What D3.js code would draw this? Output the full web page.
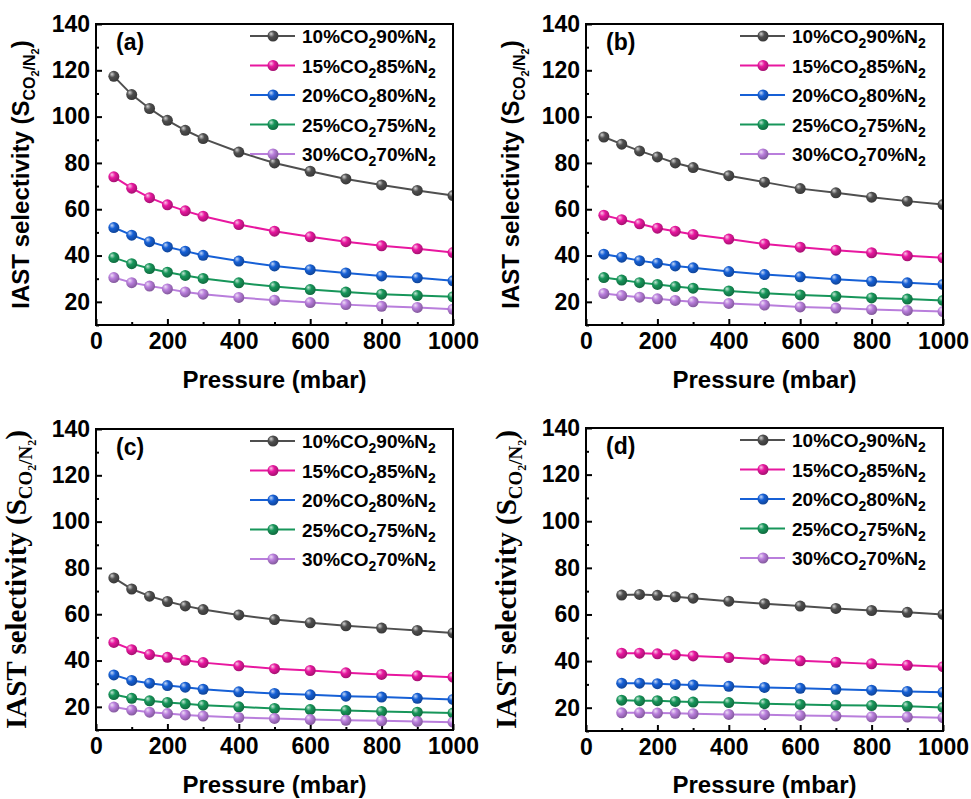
<!DOCTYPE html>
<html>
<head>
<meta charset="utf-8">
<script src="https://cdn.jsdelivr.net/npm/d3@7"></script>
<style>
  body { margin: 0; background: #fff; }
  svg { display: block; }
  .tick text { font-family: "Liberation Sans", Arial, sans-serif; font-weight: bold; font-size: 23px; fill: #000; }
</style>
</head>
<body>
<div id="chart"></div>
<script>
// pressure points (mbar)
var pressureABC = [50, 100, 150, 200, 250, 300, 400, 500, 600, 700, 800, 900, 1000];
var pressureD = [100, 150, 200, 250, 300, 400, 500, 600, 700, 800, 900, 1000];

var seriesNames = ["10%CO|90%N", "15%CO|85%N", "20%CO|80%N", "25%CO|75%N", "30%CO|70%N"];
var seriesColors = ["#4f4f4f", "#e8179f", "#1660d6", "#17965a", "#b97edc"];
var panelLabels = ["(a)", "(b)", "(c)", "(d)"];

var xTicks = [0, 200, 400, 600, 800, 1000];
var yTicks = [20, 40, 60, 80, 100, 120, 140];

// panel (a)
var a10 = [117.4, 109.5, 103.5, 98.4, 94.1, 90.5, 84.7, 80.0, 76.4, 73.1, 70.5, 68.1, 65.9];
var a15 = [74.0, 69.1, 65.0, 61.9, 59.3, 57.0, 53.4, 50.5, 48.1, 46.0, 44.2, 42.9, 41.3];
var a20 = [52.1, 48.8, 46.0, 43.7, 41.9, 40.1, 37.6, 35.5, 33.9, 32.5, 31.2, 30.4, 29.1];
var a25 = [39.1, 36.5, 34.4, 32.8, 31.4, 30.1, 28.2, 26.6, 25.3, 24.2, 23.3, 22.7, 22.2];
var a30 = [30.5, 28.3, 26.8, 25.6, 24.3, 23.3, 21.9, 20.7, 19.7, 18.8, 18.1, 17.6, 16.8];

// panel (b)
var b10 = [91.2, 88.1, 85.2, 82.6, 80.0, 78.0, 74.5, 71.7, 68.9, 67.1, 65.2, 63.5, 62.0];
var b15 = [57.4, 55.5, 53.7, 51.8, 50.5, 49.1, 47.1, 45.0, 43.6, 42.3, 41.2, 39.9, 39.0];
var b20 = [40.6, 39.3, 37.8, 36.7, 35.5, 34.7, 33.1, 31.8, 30.8, 29.8, 28.9, 28.2, 27.5];
var b25 = [30.5, 29.4, 28.3, 27.5, 26.6, 25.9, 24.7, 23.7, 23.0, 22.4, 21.7, 21.2, 20.6];
var b30 = [23.6, 22.7, 22.0, 21.3, 20.6, 20.0, 19.3, 18.6, 17.8, 17.3, 16.7, 16.3, 15.8];

// panel (c)
var c10 = [75.7, 70.9, 67.8, 65.5, 63.6, 62.0, 59.7, 57.7, 56.3, 55.0, 54.0, 53.0, 51.9];
var c15 = [47.8, 44.7, 42.6, 41.4, 40.1, 39.1, 37.7, 36.5, 35.7, 34.7, 34.0, 33.4, 32.8];
var c20 = [33.8, 31.4, 30.2, 29.2, 28.5, 27.6, 26.5, 25.8, 25.2, 24.6, 24.2, 23.7, 23.2];
var c25 = [25.3, 23.7, 22.6, 21.9, 21.3, 20.7, 20.0, 19.3, 18.8, 18.4, 18.0, 17.7, 17.3];
var c30 = [19.9, 18.6, 17.7, 17.1, 16.5, 16.0, 15.4, 15.0, 14.5, 14.2, 14.0, 13.7, 13.4];

// panel (d)
var d10 = [68.3, 68.6, 68.2, 67.6, 67.0, 65.7, 64.6, 63.6, 62.6, 61.7, 60.9, 60.0];
var d15 = [43.4, 43.4, 43.1, 42.7, 42.2, 41.5, 40.8, 40.1, 39.5, 38.8, 38.2, 37.6];
var d20 = [30.5, 30.5, 30.3, 30.0, 29.7, 29.2, 28.7, 28.3, 27.9, 27.5, 27.0, 26.6];
var d25 = [23.2, 23.0, 23.0, 22.7, 22.4, 22.2, 21.7, 21.4, 21.1, 20.9, 20.6, 20.1];
var d30 = [17.8, 17.8, 17.7, 17.6, 17.4, 17.1, 17.0, 16.7, 16.4, 16.1, 16.0, 15.7];

var W = 971, H = 799;
var svg = d3.select("#chart").append("svg").attr("width", W).attr("height", H);
var defs = svg.append("defs");

// ball-like marker gradients
seriesColors.forEach(function(c, i) {
  var grad = defs.append("radialGradient").attr("id", "ball" + i)
    .attr("cx", "40%").attr("cy", "38%").attr("r", "60%").attr("fx", "32%").attr("fy", "30%");
  grad.append("stop").attr("offset", "0%").attr("stop-color", d3.interpolateRgb(c, "#fff")(0.75));
  grad.append("stop").attr("offset", "45%").attr("stop-color", c);
  grad.append("stop").attr("offset", "100%").attr("stop-color", d3.color(c).darker(0.9));
});

var panels = [
  {left: 96, top: 24, right: 453, bottom: 325, x: pressureABC, data: [a10, a15, a20, a25, a30], serif: false, xLabY: 388},
  {left: 586, top: 24, right: 943, bottom: 325, x: pressureABC, data: [b10, b15, b20, b25, b30], serif: false, xLabY: 388},
  {left: 96, top: 429, right: 453, bottom: 730, x: pressureABC, data: [c10, c15, c20, c25, c30], serif: true, xLabY: 793},
  {left: 586, top: 428, right: 943, bottom: 731, x: pressureD, data: [d10, d15, d20, d25, d30], serif: true, xLabY: 793}
];

var sans = "'Liberation Sans', Arial, sans-serif";
var serif = "'Liberation Serif', 'Times New Roman', serif";

panels.forEach(function(p, pi) {
  var w = p.right - p.left, h = p.bottom - p.top;
  var g = svg.append("g").attr("transform", "translate(" + p.left + "," + p.top + ")");
  var x = d3.scaleLinear().domain([0, 1000]).range([0, w]);
  var y = d3.scaleLinear().domain([10, 140]).range([h, 0]);

  defs.append("clipPath").attr("id", "clip" + pi)
    .append("rect").attr("width", w).attr("height", h);

  // axes with inward ticks
  g.append("g").attr("transform", "translate(0," + h + ")")
    .call(d3.axisBottom(x).tickValues(xTicks).tickFormat(d3.format("d")).tickSize(-6).tickPadding(8));
  g.append("g").attr("transform", "translate(0," + h + ")")
    .call(d3.axisBottom(x).tickValues([100, 300, 500, 700, 900]).tickSize(-3).tickFormat(""));
  g.append("g")
    .call(d3.axisLeft(y).tickValues(yTicks).tickFormat(d3.format("d")).tickSize(-6).tickPadding(6));
  g.append("g")
    .call(d3.axisLeft(y).tickValues([10, 30, 50, 70, 90, 110, 130]).tickSize(-3).tickFormat(""));
  g.selectAll(".domain").remove();
  g.selectAll(".tick line").attr("stroke", "#000").attr("stroke-width", 2);

  // data
  var plot = g.append("g").attr("clip-path", "url(#clip" + pi + ")");
  var line = d3.line().x(function(d, i) { return x(p.x[i]); }).y(function(d) { return y(d); });
  p.data.forEach(function(vals, si) {
    plot.append("path").datum(vals).attr("d", line)
      .attr("fill", "none").attr("stroke", seriesColors[si]).attr("stroke-width", 2);
    plot.selectAll(".pt" + si).data(vals).enter().append("circle")
      .attr("cx", function(d, i) { return x(p.x[i]); })
      .attr("cy", function(d) { return y(d); })
      .attr("r", 5.5)
      .attr("fill", "url(#ball" + si + ")");
  });

  // frame
  g.append("rect").attr("width", w).attr("height", h)
    .attr("fill", "none").attr("stroke", "#000").attr("stroke-width", 2);

  // panel label
  g.append("text").attr("x", 20).attr("y", 26)
    .style("font-family", sans).style("font-weight", "bold").style("font-size", "23px")
    .text(panelLabels[pi]);

  // legend
  var lg = g.append("g").attr("transform", "translate(" + (w - 203) + "," + 12 + ")");
  seriesNames.forEach(function(name, si) {
    var ry = si * 29.5;
    lg.append("line").attr("x1", 0).attr("x2", 45).attr("y1", ry).attr("y2", ry)
      .attr("stroke", seriesColors[si]).attr("stroke-width", 2);
    lg.append("circle").attr("cx", 23).attr("cy", ry).attr("r", 5.5)
      .attr("fill", "url(#ball" + si + ")");
    var parts = name.split("|");
    var t = lg.append("text").attr("x", 52).attr("y", ry + 7)
      .style("font-family", sans).style("font-weight", "bold").style("font-size", "19px");
    t.append("tspan").text(parts[0]);
    t.append("tspan").attr("dy", 5).style("font-size", "14px").text("2");
    t.append("tspan").attr("dy", -5).text(parts[1]);
    t.append("tspan").attr("dy", 5).style("font-size", "14px").text("2");
  });

  // x label
  svg.append("text").attr("x", p.left + w / 2).attr("y", p.xLabY)
    .attr("text-anchor", "middle")
    .style("font-family", sans).style("font-weight", "bold").style("font-size", "24px")
    .text("Pressure (mbar)");

  // y label
  var fam = p.serif ? serif : sans;
  var big = p.serif ? 29 : 24, sub = p.serif ? 19 : 16, sub2 = p.serif ? 12 : 11;
  var cx = p.left - (p.serif ? 70 : 67);
  var yl = svg.append("text")
    .attr("transform", "translate(" + cx + "," + (p.top + h / 2) + ") rotate(-90)")
    .attr("text-anchor", "middle")
    .style("font-family", fam).style("font-weight", "bold").style("font-size", big + "px");
  yl.append("tspan").text("IAST selectivity (S");
  yl.append("tspan").attr("dy", 6).style("font-size", sub + "px").text("CO");
  yl.append("tspan").attr("dy", 4).style("font-size", sub2 + "px").text("2");
  yl.append("tspan").attr("dy", -4).style("font-size", sub + "px").text("/N");
  yl.append("tspan").attr("dy", 4).style("font-size", sub2 + "px").text("2");
  yl.append("tspan").attr("dy", -10).text(")");
});
</script>
</body>
</html>
